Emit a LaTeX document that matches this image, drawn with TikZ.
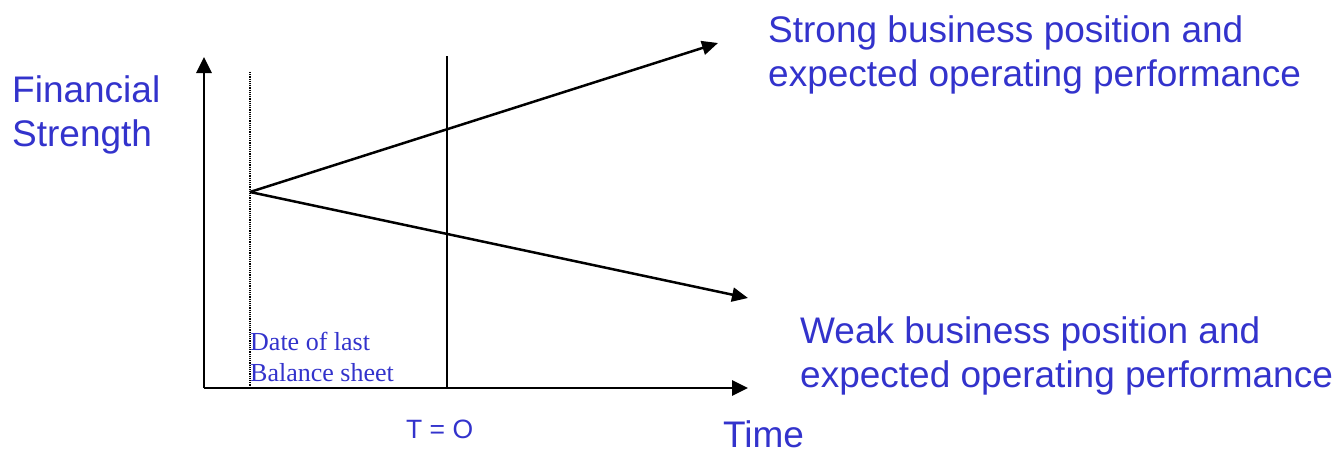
\documentclass[tikz,border=0pt]{standalone}
\usepackage{fontspec}
\setmainfont{Liberation Sans}
\newfontfamily\timesfont{Liberation Serif}
\usetikzlibrary{positioning, arrows.meta}
\definecolor{labelblue}{RGB}{51,51,204}

\begin{document}
\begin{tikzpicture}[x=1pt, y=-1pt,
    every node/.style={inner sep=0pt, text=labelblue},
    biglabel/.style={font=\fontsize{37}{44}\selectfont, align=left, anchor=north west},
    smalllabel/.style={font=\fontsize{26.5}{31}\selectfont, anchor=north west},
    axis/.style={-{Triangle[length=16pt, width=15pt]}, line width=2.9pt},
    trend/.style={-{Triangle[length=16pt, width=14pt]}, line width=2.5pt}]

  \useasboundingbox (0,0) rectangle (1338,450);

  \coordinate (origin) at (204,388);
  \coordinate (ytip) at (204,57);
  \coordinate (xtip) at (748,388);
  \coordinate (fork) at (250,192);
  \coordinate (strongtip) at (718,43);
  \coordinate (weaktip) at (748,298);
  \coordinate (datetop) at (250,72);
  \coordinate (datebot) at (250,388);
  \coordinate (nowtop) at (447,56);
  \coordinate (nowbot) at (447,388);

  \node[biglabel] (ylabel) at (12,75) {Financial\\Strength};
  \node[anchor=base west, font=\fontsize{37}{44}\selectfont] (xlabel) at (723,447) {Time};
  \node[biglabel] (strong) at (768,15) {Strong business position and\\expected operating performance};
  \node[biglabel] (weak) at (800,316) {Weak business position and\\expected operating performance};
  \node[smalllabel, align=left, font=\timesfont\fontsize{26}{31}\selectfont] (date) at (250,332) {Date of last\\Balance sheet};
  \node[smalllabel] (now) at (406,420) {T = O};

  \draw[line width=1.5pt, dash pattern=on 1.2pt off 1pt] (datetop) -- (datebot);
  \draw[line width=1.8pt] (nowtop) -- (nowbot);
  \draw[axis] (origin) -- (ytip);
  \draw[axis] (origin) -- (xtip);
  \draw[trend] (fork) -- (strongtip);
  \draw[trend] (fork) -- (weaktip);
\end{tikzpicture}
\end{document}
